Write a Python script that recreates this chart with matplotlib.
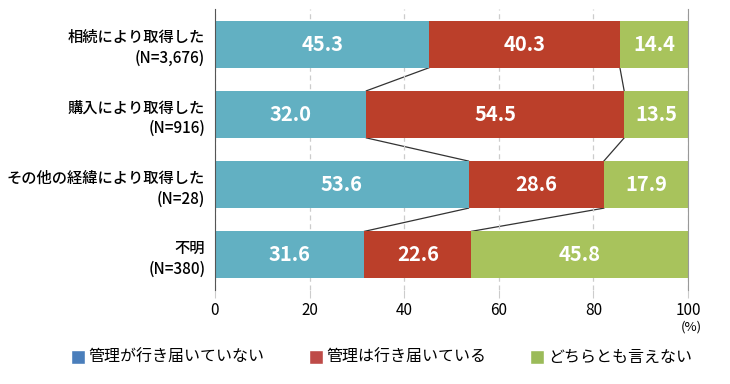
import numpy as np
import matplotlib.pyplot as plt
from matplotlib.lines import Line2D

plt.rcParams['font.family'] = ['Noto Sans CJK JP', 'DejaVu Sans']

# data
categories = ['相続により取得した\n(N=3,676)', '購入により取得した\n(N=916)',
              'その他の経緯により取得した\n(N=28)', '不明\n(N=380)']
series_names = ['管理が行き届いていない', '管理は行き届いている', 'どちらとも言えない']
not_managed = [45.3, 32.0, 53.6, 31.6]
managed = [40.3, 54.5, 28.6, 22.6]
neither = [14.4, 13.5, 17.9, 45.8]

bar_colors = ['#62b0c2', '#bb3f2a', '#a8c35c']
legend_colors = ['#4a7ebb', '#be4b48', '#9bbb59']

fig = plt.figure(figsize=(7.3, 3.84), dpi=100)
ax = fig.add_axes([0.2945, 0.2448, 0.648, 0.7318])

values = np.array([not_managed, managed, neither])
y = np.arange(len(categories))
h = 0.67
left = np.zeros(len(categories))
for vals, col in zip(values, bar_colors):
    ax.barh(y, vals, left=left, height=h, color=col, zorder=2)
    for yi, (l, v) in enumerate(zip(left, vals)):
        ax.text(l + v / 2, yi, f'{v:.1f}', ha='center', va='center',
                color='white', fontsize=14.5, fontweight='bold', zorder=3)
    left = left + vals

# connector lines between bars
cum = np.cumsum(values, axis=0)
for k in range(2):
    for i in range(len(categories) - 1):
        ax.plot([cum[k, i], cum[k, i + 1]], [i + h / 2, i + 1 - h / 2],
                color='#333333', lw=0.9, zorder=1)

ax.set_xlim(0, 100)
ax.set_ylim(3.5, -0.5)
ax.set_yticks(y)
ax.set_yticklabels(categories, fontsize=11, fontweight='medium', linespacing=1.3)
ax.tick_params(axis='y', length=0, pad=7)
ax.set_xticks([0, 20, 40, 60, 80, 100])
ax.tick_params(axis='x', length=6, color='#cccccc', labelsize=11, pad=3)
for t in ax.xaxis.get_major_ticks():
    t.tick1line.set_color('#cccccc')
ax.xaxis.get_major_ticks()[0].tick1line.set_color('#555555')
ax.xaxis.get_major_ticks()[-1].tick1line.set_color('#777777')
ax.grid(axis='x', color='#cccccc', linestyle=(0, (4, 3)), lw=0.9, zorder=0)
for s in ['top', 'bottom']:
    ax.spines[s].set_visible(False)
ax.spines['left'].set_color('#555555')
ax.spines['right'].set_color('#999999')
ax.text(100.6, -0.11, '(%)', transform=ax.get_xaxis_transform(), ha='center',
        va='top', fontsize=9.5)

handles = [Line2D([], [], marker='s', linestyle='', markersize=10, color=c,
                  markeredgecolor='white') for c in legend_colors]
fig.legend(handles, series_names, loc='center', bbox_to_anchor=(0.522, 0.068),
           ncol=3, frameon=False, fontsize=11.5, handletextpad=0.15,
           columnspacing=2.7, handlelength=1.0)

fig.savefig('out.png', dpi=100)
